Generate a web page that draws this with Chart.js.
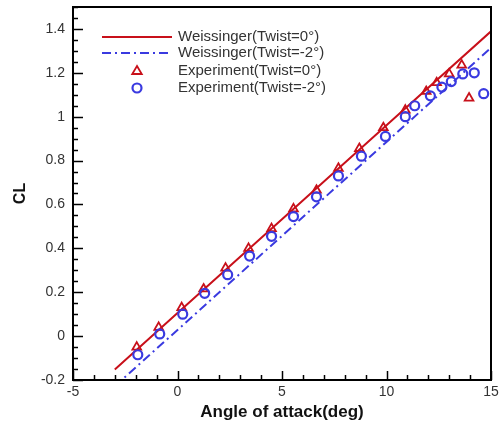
<!DOCTYPE html>
<html>
<head>
<meta charset="utf-8">
<script src="https://cdn.jsdelivr.net/npm/chart.js@4.4.1/dist/chart.umd.min.js"></script>
<style>
html,body{margin:0;padding:0;background:#fff;}
#wrap{width:504px;height:424px;position:relative;}
</style>
</head>
<body>
<div id="wrap"><canvas id="c" width="504" height="424"></canvas></div>
<script>
// ---- Data ----
const seriesLabels = ['Weissinger(Twist=0°)', 'Weissinger(Twist=-2°)', 'Experiment(Twist=0°)', 'Experiment(Twist=-2°)'];

const weissAlpha = [-3, 0, 5, 10, 15];
const weissCL0   = [-0.152, 0.105, 0.533, 0.961, 1.389];
const weissCLm2  = [-0.228, 0.028, 0.457, 0.885, 1.314];

const expAlpha0 = [-1.95, -0.9, 0.2, 1.25, 2.3, 3.4, 4.5, 5.55, 6.65, 7.7, 8.7, 9.85, 10.9, 11.9, 12.4, 13.0, 13.6, 13.95];
const expCL0    = [-0.05, 0.04, 0.13, 0.215, 0.31, 0.40, 0.49, 0.58, 0.665, 0.765, 0.855, 0.95, 1.03, 1.115, 1.155, 1.195, 1.235, 1.085];

const expAlphaM2 = [-1.9, -0.85, 0.25, 1.3, 2.4, 3.45, 4.5, 5.55, 6.65, 7.7, 8.8, 9.95, 10.9, 11.35, 12.1, 12.65, 13.1, 13.65, 14.2, 14.65];
const expCLM2    = [-0.085, 0.01, 0.10, 0.195, 0.28, 0.365, 0.455, 0.545, 0.635, 0.73, 0.82, 0.91, 1.0, 1.05, 1.095, 1.135, 1.16, 1.195, 1.2, 1.105];

const xTicks = [-5, 0, 5, 10, 15];
const xTickLabels = ['-5', '0', '5', '10', '15'];
const yTicks = [-0.2, 0, 0.2, 0.4, 0.6, 0.8, 1.0, 1.2, 1.4];
const yTickLabels = ['-0.2', '0', '0.2', '0.4', '0.6', '0.8', '1', '1.2', '1.4'];

const xTitle = 'Angle of attack(deg)';
const yTitle = 'CL';

// ---- styles ----
const RED = '#c8101a';
const BLUE = '#3a3ae0';
const DASHDOT = [9, 4, 2, 4];
const FONT = '"Liberation Sans", Arial, sans-serif';

const pts = (xs, ys) => xs.map((v, i) => ({x: v, y: ys[i]}));

const frameTicks = {
  id: 'frameTicks',
  afterDraw(chart) {
    const {ctx, chartArea: a, scales: {x, y}} = chart;
    ctx.save();
    ctx.strokeStyle = '#000';
    ctx.lineWidth = 1.5;
    const xs = x.min, xe = x.max;
    for (let i = 0; i <= Math.round(xe - xs); i++) {
      const v = xs + i;
      const px = Math.round(x.getPixelForValue(v)) + 0.5;
      const major = (Math.round(v) % 5 === 0);
      const len = major ? 9 : 5;
      ctx.beginPath(); ctx.moveTo(px, a.bottom); ctx.lineTo(px, a.bottom - len); ctx.stroke();
    }
    const nY = Math.round((y.max - y.min) / 0.05);
    for (let i = 0; i <= nY; i++) {
      const v = y.min + i * 0.05;
      const py = Math.round(y.getPixelForValue(v)) + 0.5;
      const major = (i % 4 === 0);
      const len = major ? 10 : 5;
      ctx.beginPath(); ctx.moveTo(a.left, py); ctx.lineTo(a.left + len, py); ctx.stroke();
    }
    ctx.lineWidth = 2;
    ctx.strokeRect(a.left, a.top, a.right - a.left, a.bottom - a.top);

    // legend
    const ds = chart.data.datasets;
    const rows = [37, 53, 71, 88];
    const lx0 = 102, lx1 = 172, tx = 178;
    ctx.font = '15px ' + FONT;
    ctx.textBaseline = 'middle';
    ctx.textAlign = 'left';
    ds.forEach((d, i) => {
      const yy = rows[i];
      if (d.showLine) {
        ctx.strokeStyle = d.borderColor;
        ctx.lineWidth = d.borderWidth;
        ctx.setLineDash(d.borderDash || []);
        ctx.beginPath(); ctx.moveTo(lx0, yy); ctx.lineTo(lx1, yy); ctx.stroke();
        ctx.setLineDash([]);
      } else {
        ctx.strokeStyle = d.pointBorderColor;
        ctx.lineWidth = d.pointBorderWidth;
        const cx = (lx0 + lx1) / 2;
        if (d.pointStyle === 'triangle') {
          const r = d.pointRadius;
          ctx.beginPath();
          ctx.moveTo(cx, yy - r);
          ctx.lineTo(cx + r * 0.95, yy + r * 0.6);
          ctx.lineTo(cx - r * 0.95, yy + r * 0.6);
          ctx.closePath(); ctx.stroke();
        } else {
          ctx.beginPath(); ctx.arc(cx, yy, d.pointRadius, 0, Math.PI * 2); ctx.stroke();
        }
      }
      ctx.fillStyle = '#333';
      ctx.fillText(d.label, tx, yy);
    });
    ctx.restore();
  }
};

new Chart(document.getElementById('c'), {
  type: 'scatter',
  data: {
    datasets: [
      {label: seriesLabels[0], data: pts(weissAlpha, weissCL0), showLine: true, borderColor: RED, borderWidth: 2, pointRadius: 0, order: 4},
      {label: seriesLabels[1], data: pts(weissAlpha, weissCLm2), showLine: true, borderColor: BLUE, borderWidth: 2, borderDash: DASHDOT, pointRadius: 0, order: 3},
      {label: seriesLabels[2], data: pts(expAlpha0, expCL0), showLine: false, pointStyle: 'triangle', pointRadius: 5, pointBorderColor: RED, pointBackgroundColor: 'rgba(0,0,0,0)', pointBorderWidth: 1.8, order: 2},
      {label: seriesLabels[3], data: pts(expAlphaM2, expCLM2), showLine: false, pointStyle: 'circle', pointRadius: 4.5, pointBorderColor: BLUE, pointBackgroundColor: 'rgba(0,0,0,0)', pointBorderWidth: 2.2, order: 1}
    ]
  },
  options: {
    responsive: false,
    animation: false,
    events: [],
    layout: {padding: {left: 0, top: 7, right: 13, bottom: 0}},
    plugins: {legend: {display: false}, tooltip: {enabled: false}},
    scales: {
      x: {
        type: 'linear', min: -5, max: 15,
        afterBuildTicks: s => { s.ticks = xTicks.map(v => ({value: v})); },
        afterFit: s => { s.height = 44; s.paddingLeft = 0; s.paddingRight = 0; },
        grid: {display: false, drawTicks: false},
        border: {display: false},
        ticks: {padding: 4, color: '#333', font: {family: FONT, size: 14},
                callback: (v) => xTickLabels[xTicks.indexOf(v)] ?? ''},
        title: {display: true, text: xTitle, color: '#111', padding: {top: 0, bottom: 1},
                font: {family: FONT, size: 17, weight: 'bold'}}
      },
      y: {
        type: 'linear', min: -0.2, max: 1.5,
        afterBuildTicks: s => { s.ticks = yTicks.map(v => ({value: v})); },
        afterFit: s => { s.width = 73; s.paddingTop = 0; s.paddingBottom = 0; },
        grid: {display: false, drawTicks: false},
        border: {display: false},
        ticks: {padding: 8, color: '#333', font: {family: FONT, size: 14},
                callback: (v) => { const i = yTicks.findIndex(t => Math.abs(t - v) < 1e-9); return i >= 0 ? yTickLabels[i] : ''; }},
        title: {display: true, text: yTitle, color: '#111', padding: {top: 11, bottom: 0},
                font: {family: FONT, size: 16, weight: 'bold'}}
      }
    }
  },
  plugins: [frameTicks]
});
</script>
</body>
</html>
